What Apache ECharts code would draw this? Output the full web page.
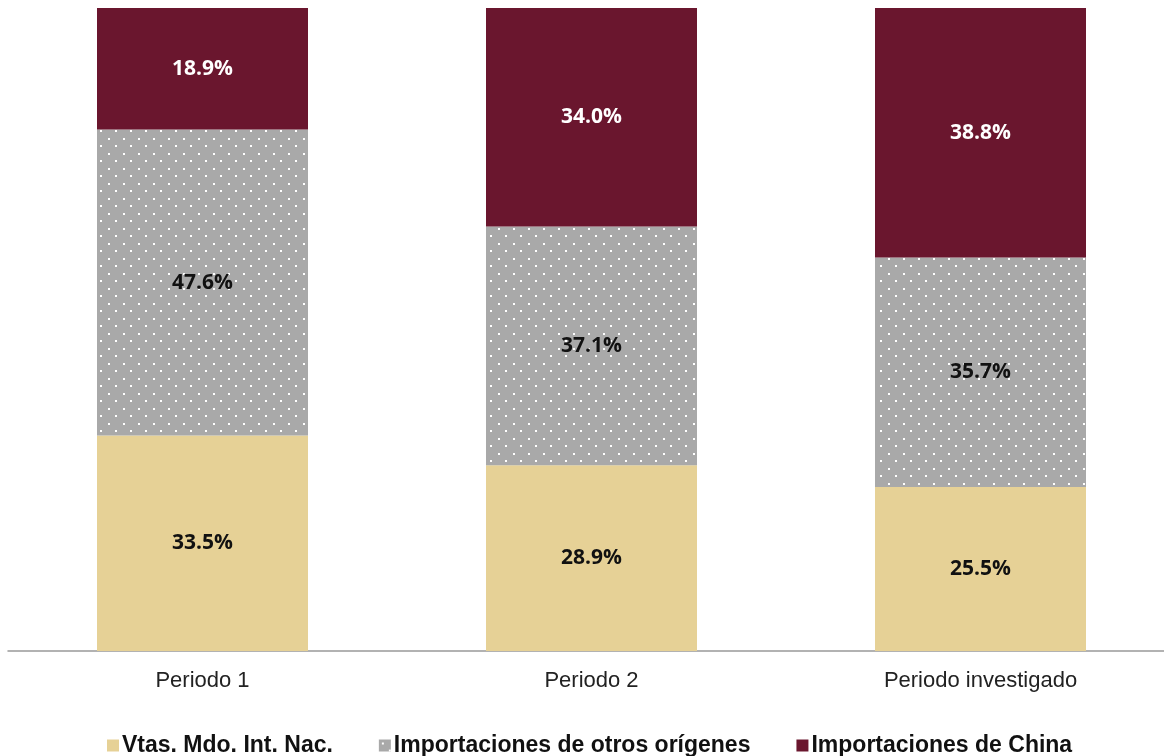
<!DOCTYPE html>
<html>
<head>
<meta charset="utf-8">
<script src="https://cdn.jsdelivr.net/npm/echarts@6/dist/echarts.min.js"></script>
<style>
html,body{margin:0;padding:0;background:#fff;}
#chart{width:1164px;height:756px;}
</style>
</head>
<body>
<div id="chart"></div>
<script>
const categories = ['Periodo 1', 'Periodo 2', 'Periodo investigado'];
const seriesNames = ['Vtas. Mdo. Int. Nac.', 'Importaciones de otros orígenes', 'Importaciones de China'];
const ventasNac = [33.5, 28.9, 25.5];
const impOtros = [47.6, 37.1, 35.7];
const impChina = [18.9, 34.0, 38.8];

// dotted grey pattern
const pc = document.createElement('canvas');
pc.width = 15; pc.height = 15;
const ctx = pc.getContext('2d');
ctx.fillStyle = '#a9a9a9';
ctx.fillRect(0, 0, 15, 15);
ctx.fillStyle = '#ffffff';
ctx.fillRect(3, 3, 2, 2);
ctx.fillRect(10, 10, 2, 2);

const labelFont = {fontFamily: 'Open Sans', fontWeight: 'bold', fontSize: 21};
function fmt(p){ return p.value.toFixed(1) + '%'; }

const chart = echarts.init(document.getElementById('chart'));
chart.setOption({
  animation: false,
  backgroundColor: '#fff',
  grid: {left: 8, width: 1167, top: 8, bottom: 105, outerBoundsMode: 'none', containLabel: false},
  legend: {
    left: 102, top: 729,
    itemWidth: 12, itemHeight: 12, itemGap: 46,
    icon: 'rect',
    textStyle: {fontFamily: 'Liberation Sans', fontWeight: 'bold', fontSize: 23, color: '#111', padding: [0,0,0,-2]},
    data: seriesNames
  },
  xAxis: {
    type: 'category',
    data: categories,
    axisLine: {lineStyle: {color: '#999', width: 1.5}},
    axisTick: {show: false},
    axisLabel: {fontFamily: 'Liberation Sans', fontSize: 22, color: '#222', margin: 19}
  },
  yAxis: {type: 'value', min: 0, max: 100, show: false, splitLine: {show: false}},
  series: [
    {
      name: seriesNames[0], type: 'bar', stack: 'a', barWidth: 211,
      data: ventasNac,
      itemStyle: {color: '#e6d196'},
      label: Object.assign({show: true, position: 'inside', color: '#111', formatter: fmt}, labelFont)
    },
    {
      name: seriesNames[1], type: 'bar', stack: 'a', barWidth: 211,
      data: impOtros,
      itemStyle: {color: {image: pc, repeat: 'repeat'}},
      label: Object.assign({show: true, position: 'inside', color: '#111', formatter: fmt}, labelFont)
    },
    {
      name: seriesNames[2], type: 'bar', stack: 'a', barWidth: 211,
      data: impChina,
      itemStyle: {color: '#6a162e'},
      label: Object.assign({show: true, position: 'inside', color: '#fff', formatter: fmt}, labelFont)
    }
  ]
});
</script>
</body>
</html>
